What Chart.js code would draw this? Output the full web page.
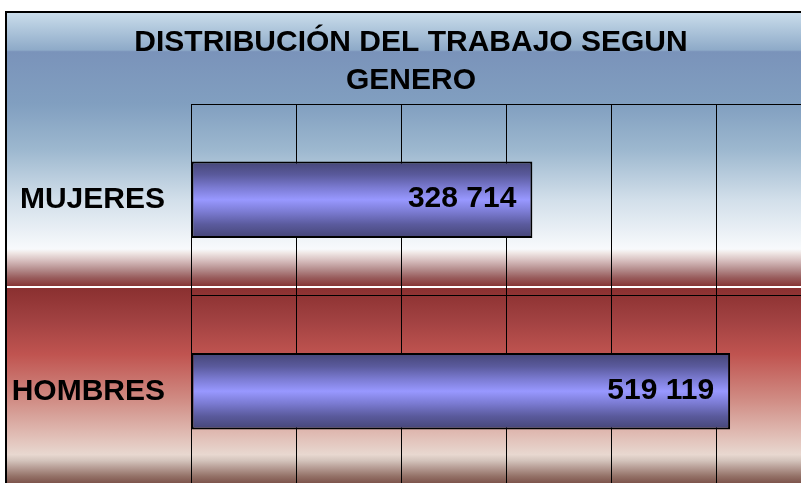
<!DOCTYPE html>
<html>
<head>
<meta charset="utf-8">
<script src="https://cdn.jsdelivr.net/npm/chart.js@4"></script>
<style>
  html, body { margin: 0; padding: 0; overflow: hidden; background: #fff; }
  canvas { display: block; }
</style>
</head>
<body>
<canvas id="myChart" width="822" height="490"></canvas>
<script>
const categorias = ['MUJERES', 'HOMBRES'];
const trabajadores = [328714, 519119];
const titulo = ['DISTRIBUCIÓN DEL TRABAJO SEGUN', 'GENERO'];

const ctx = document.getElementById('myChart');
const fuente = "'Liberation Sans', Arial, sans-serif";

function miles(v) {
  return String(v).replace(/\B(?=(\d{3})+(?!\d))/g, ' ');
}

// fondo: panel azul arriba, panel rojo abajo
const fondo = {
  id: 'fondo',
  beforeDraw(chart) {
    const c = chart.ctx;
    const w = chart.width, h = chart.height;
    c.save();
    c.fillStyle = '#fff';
    c.fillRect(0, 0, w, h);

    let g = c.createLinearGradient(0, 12, 0, 286);
    g.addColorStop(0, '#cbdeec');
    g.addColorStop(0.139, '#8eaac8');
    g.addColorStop(0.145, '#7a93ba');
    g.addColorStop(0.336, '#819fc0');
    g.addColorStop(0.504, '#9db8cf');
    g.addColorStop(0.686, '#d2dfea');
    g.addColorStop(0.865, '#f8fafc');
    g.addColorStop(0.88, '#efe6e4');
    g.addColorStop(0.91, '#d4baba');
    g.addColorStop(0.94, '#b48c8c');
    g.addColorStop(0.97, '#985c5c');
    g.addColorStop(1, '#873636');
    c.fillStyle = g;
    c.fillRect(6, 12, w, 274);

    g = c.createLinearGradient(0, 288, 0, 484);
    g.addColorStop(0, '#8a3030');
    g.addColorStop(0.17, '#a24242');
    g.addColorStop(0.34, '#c05450');
    g.addColorStop(0.57, '#d08c84');
    g.addColorStop(0.77, '#e2c2ba');
    g.addColorStop(0.85, '#e8d8d0');
    g.addColorStop(0.88, '#d4c4bc');
    g.addColorStop(0.92, '#b49a92');
    g.addColorStop(0.96, '#947268');
    g.addColorStop(1, '#7a5048');
    c.fillStyle = g;
    c.fillRect(6, 288, w, h - 288);

    c.fillStyle = '#000';
    c.fillRect(5, 11, w, 2);
    c.fillRect(5, 11, 2, h);
    c.restore();
  }
};

// valores dentro de las barras
const etiquetas = {
  id: 'etiquetas',
  afterDatasetsDraw(chart) {
    const c = chart.ctx;
    const meta = chart.getDatasetMeta(0);
    c.save();
    c.font = 'bold 30px ' + fuente;
    c.fillStyle = '#000';
    c.textAlign = 'right';
    c.textBaseline = 'middle';
    meta.data.forEach((bar, i) => {
      c.fillText(miles(chart.data.datasets[0].data[i]), bar.x - 16, bar.y - 1);
    });
    c.restore();
  }
};

function degradadoBarra(context) {
  const chart = context.chart;
  const y = chart.scales.y;
  if (!y || context.dataIndex === undefined) return '#9595ff';
  const centro = y.getPixelForTick(context.dataIndex);
  const g = chart.ctx.createLinearGradient(0, centro - 39, 0, centro + 39);
  g.addColorStop(0, '#444474');
  g.addColorStop(0.18, '#5a5a9c');
  g.addColorStop(0.35, '#7c7cd4');
  g.addColorStop(0.5, '#9898ff');
  g.addColorStop(0.65, '#7c7cd4');
  g.addColorStop(0.82, '#5a5a9c');
  g.addColorStop(1, '#444474');
  return g;
}

new Chart(ctx, {
  type: 'bar',
  data: {
    labels: categorias,
    datasets: [{
      data: trabajadores,
      backgroundColor: degradadoBarra,
      borderColor: '#000',
      borderWidth: 2,
      borderSkipped: false,
      barPercentage: 0.4,
      categoryPercentage: 1
    }]
  },
  options: {
    indexAxis: 'y',
    responsive: false,
    animation: false,
    events: [],
    layout: { padding: { left: 0, right: 0, top: 0, bottom: 3 } },
    scales: {
      x: {
        min: 0,
        max: 607600,
        afterFit(scale) { scale.height = 0; },
        ticks: { display: false, stepSize: 100000 },
        grid: { color: '#000', lineWidth: 1, drawTicks: false },
        border: { display: false }
      },
      y: {
        afterFit(scale) {
          scale.width = 191;
          scale.paddingTop = 0;
          scale.paddingBottom = 0;
        },
        ticks: {
          color: '#000',
          padding: 26,
          font: { family: fuente, size: 30, weight: 'bold' }
        },
        grid: { color: '#000', lineWidth: 1, drawTicks: false, offset: true },
        border: { display: true, color: '#000', width: 1 }
      }
    },
    plugins: {
      legend: { display: false },
      tooltip: { enabled: false },
      title: {
        display: true,
        text: titulo,
        color: '#000',
        font: { family: fuente, size: 30, weight: 'bold', lineHeight: 1.25 },
        padding: { top: 24, bottom: 5 }
      }
    }
  },
  plugins: [fondo, etiquetas]
});
</script>
</body>
</html>
